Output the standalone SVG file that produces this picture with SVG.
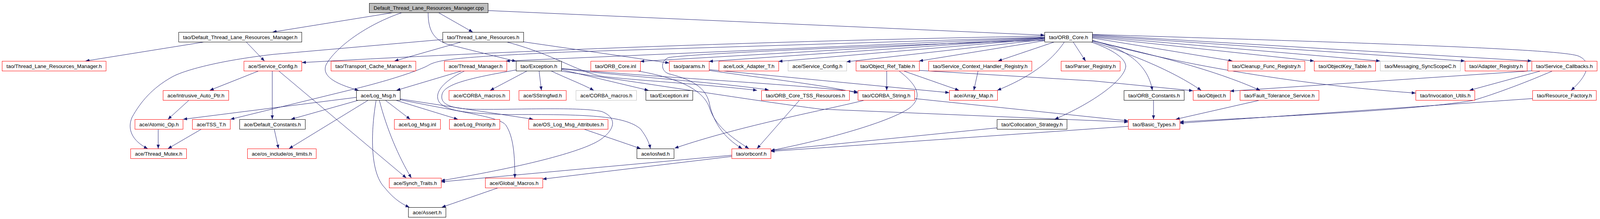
<svg xmlns="http://www.w3.org/2000/svg" width="4185" height="560" viewBox="0 0 4185 560">
<style>
.node rect{fill:#ffffff;stroke-width:1}
.red rect{stroke:#ff0000}
.blk rect{stroke:#000000}
.gry rect{stroke:#bfbfbf}
.root rect{fill:#bfbfbf;stroke:#000000}
.node text{font-family:"Liberation Sans",Arial,sans-serif;font-size:13px;text-anchor:middle;fill:#000000}
#edges path{fill:none;stroke:#191970;stroke-width:1;marker-end:url(#arr)}
</style>
<defs>
<marker id="arr" markerUnits="userSpaceOnUse" markerWidth="10" markerHeight="8" refX="10" refY="4" orient="auto">
<path d="M0,0 L10,4 L0,8 z" fill="#191970"/>
</marker>
</defs>
<rect x="0" y="0" width="4185" height="560" fill="#ffffff"/>
<g id="edges">
<path d="M1008,32 L698,82"/>
<path d="M1030,32 C940,62 860,120 835,165 C822,195 860,215 918,231"/>
<path d="M1122,32 L1210,82"/>
<path d="M1096,32 C1096,75 1108,100 1145,113 L1321,157"/>
<path d="M1249,27 L2674,90"/>
<path d="M525,107 L219,156"/>
<path d="M630,107 L677,156"/>
<path d="M1133,101 L700,139 C560,155 470,180 440,197 C390,225 360,260 338,300 C325,330 338,360 378,380"/>
<path d="M1182,107 L1010,156"/>
<path d="M1340,107 L1713,161"/>
<path d="M1296,107 C1420,140 1470,180 1540,195 C1620,205 1800,215 1938,231"/>
<path d="M1437,176 C1600,195 1850,212 1968,230"/>
<path d="M1630,181 C1740,200 1800,230 1816,275 C1830,320 1870,350 1917,380"/>
<path d="M2674,103 C2300,115 1800,135 1712,147 C1690,155 1690,185 1717,190 C1775,205 1805,225 1815,260 C1825,310 1850,350 1900,380"/>
<path d="M2047,256 L1938,380"/>
<path d="M1350,181 L1255,231"/>
<path d="M1380,181 L1386,231"/>
<path d="M1410,181 C1450,200 1490,215 1520,231"/>
<path d="M1437,178 L1660,231"/>
<path d="M1437,175 C1700,200 2000,212 2196,235"/>
<path d="M1437,182 C1700,220 1950,260 2100,279 L2888,312"/>
<path d="M1321,179 C1200,200 1140,215 1132,240 C1125,265 1150,276 1200,279 C1300,282 1480,272 1540,285 C1580,300 1575,330 1540,355 C1500,385 1350,425 1129,462"/>
<path d="M1183,181 L1015,231"/>
<path d="M1190,181 C1130,210 1110,240 1125,262 C1145,285 1200,290 1300,293 C1500,292 1600,295 1640,330 C1655,350 1662,365 1665,380"/>
<path d="M986,256 L1050,305"/>
<path d="M1012,256 L1172,305"/>
<path d="M1024,253 L1365,305"/>
<path d="M1024,255 C1200,290 1280,300 1295,320 C1315,350 1318,400 1318,455"/>
<path d="M919,256 L745,305"/>
<path d="M943,256 L740,380"/>
<path d="M971,256 C990,330 1020,400 1053,455"/>
<path d="M963,256 C950,330 945,440 985,480 C1005,505 1025,520 1048,530"/>
<path d="M912,249 L469,305"/>
<path d="M2674,95 L1450,133 C1200,145 1130,150 1100,165 C1080,178 1000,205 905,228 L590,305"/>
<path d="M2674,92 C2000,105 1400,125 773,160"/>
<path d="M2674,96 L1295,156"/>
<path d="M663,181 L537,231"/>
<path d="M697,181 L697,305"/>
<path d="M713,181 L1040,455"/>
<path d="M484,256 L430,305"/>
<path d="M405,330 L405,380"/>
<path d="M516,330 L430,380"/>
<path d="M702,330 L713,380"/>
<path d="M1494,330 L1640,380"/>
<path d="M2214,256 C2120,280 1900,320 1727,379"/>
<path d="M2341,252 L2888,309"/>
<path d="M1873,397 L1129,465"/>
<path d="M1873,400 L1389,458"/>
<path d="M1276,480 L1131,530"/>
<path d="M2270,181 L2270,231"/>
<path d="M2312,181 L2455,231"/>
<path d="M2301,181 C2345,215 2365,245 2330,275 C2290,305 2150,350 1973,385"/>
<path d="M2353,180 L2800,207 L3054,232"/>
<path d="M2504,181 L2493,231"/>
<path d="M1815,180 C1950,200 2100,215 2196,238"/>
<path d="M1815,178 L2430,237"/>
<path d="M2725,107 C2690,160 2630,200 2553,231"/>
<path d="M2700,107 L2555,156"/>
<path d="M2674,104 L2353,156"/>
<path d="M2674,101 L2167,158"/>
<path d="M2674,99 L1993,157"/>
<path d="M2674,98 L1815,157"/>
<path d="M2674,97 L1639,157"/>
<path d="M2747,107 L2779,156"/>
<path d="M2792,107 C2850,127 2882,150 2882,170 C2878,205 2800,262 2700,305"/>
<path d="M2796,104 C2890,125 2940,170 2950,231"/>
<path d="M2796,106 C2900,140 3000,180 3075,231"/>
<path d="M2796,104 C2950,140 3100,175 3226,231"/>
<path d="M2796,103 C3000,160 3300,215 3624,238"/>
<path d="M2796,97 L3155,156"/>
<path d="M2796,95 L3364,156"/>
<path d="M2796,93 L3533,156"/>
<path d="M2796,91 L3750,156"/>
<path d="M2796,89 L3921,156"/>
<path d="M2796,88 C3500,110 3990,125 4040,143 C4075,157 4068,190 4022,231"/>
<path d="M3921,181 L3640,200 L3149,233"/>
<path d="M3942,182 L3762,231"/>
<path d="M3973,182 C3920,205 3830,240 3770,257 C3600,285 3200,300 3020,312"/>
<path d="M3923,252 L3020,315"/>
<path d="M3226,256 L3010,305"/>
<path d="M2953,256 L2953,305"/>
<path d="M2888,323 L1973,387"/>
<path d="M2552,327 L1973,385"/>
</g>
<g id="n0" class="node root"><rect x="945.5" y="8.5" width="304" height="24"/><text x="1097.5" y="25" textLength="282" lengthAdjust="spacingAndGlyphs">Default_Thread_Lane_Resources_Manager.cpp</text></g>
<g id="n1" class="node blk"><rect x="457.5" y="82.5" width="315" height="25"/><text x="615" y="100" textLength="293" lengthAdjust="spacingAndGlyphs">tao/Default_Thread_Lane_Resources_Manager.h</text></g>
<g id="n2" class="node red"><rect x="5.5" y="156.5" width="266" height="25"/><text x="138.5" y="174" textLength="244" lengthAdjust="spacingAndGlyphs">tao/Thread_Lane_Resources_Manager.h</text></g>
<g id="n3" class="node red"><rect x="624.5" y="156.5" width="148" height="25"/><text x="698.5" y="174" textLength="126" lengthAdjust="spacingAndGlyphs">ace/Service_Config.h</text></g>
<g id="n4" class="node blk"><rect x="1133.5" y="82.5" width="207" height="25"/><text x="1237" y="100" textLength="185" lengthAdjust="spacingAndGlyphs">tao/Thread_Lane_Resources.h</text></g>
<g id="n5" class="node red"><rect x="847.5" y="156.5" width="217" height="25"/><text x="956" y="174" textLength="195" lengthAdjust="spacingAndGlyphs">tao/Transport_Cache_Manager.h</text></g>
<g id="n6" class="node red"><rect x="1137.5" y="156.5" width="160" height="25"/><text x="1217.5" y="174" textLength="138" lengthAdjust="spacingAndGlyphs">ace/Thread_Manager.h</text></g>
<g id="n7" class="node blk"><rect x="1321.5" y="156.5" width="116" height="25"/><text x="1379.5" y="174" textLength="94" lengthAdjust="spacingAndGlyphs">tao/Exception.h</text></g>
<g id="n8" class="node red"><rect x="1512.5" y="156.5" width="127" height="25"/><text x="1576" y="174" textLength="105" lengthAdjust="spacingAndGlyphs">tao/ORB_Core.inl</text></g>
<g id="n9" class="node red"><rect x="1713.5" y="156.5" width="102" height="25"/><text x="1764.5" y="174" textLength="80" lengthAdjust="spacingAndGlyphs">tao/params.h</text></g>
<g id="n10" class="node red"><rect x="1840.5" y="156.5" width="153" height="25"/><text x="1917" y="174" textLength="131" lengthAdjust="spacingAndGlyphs">ace/Lock_Adapter_T.h</text></g>
<g id="n11" class="node gry"><rect x="2017.5" y="156.5" width="150" height="25"/><text x="2092.5" y="174" textLength="128" lengthAdjust="spacingAndGlyphs">ace/Service_Config.h</text></g>
<g id="n12" class="node red"><rect x="2191.5" y="156.5" width="162" height="25"/><text x="2272.5" y="174" textLength="140" lengthAdjust="spacingAndGlyphs">tao/Object_Ref_Table.h</text></g>
<g id="n13" class="node red"><rect x="2377.5" y="156.5" width="264" height="25"/><text x="2509.5" y="174" textLength="242" lengthAdjust="spacingAndGlyphs">tao/Service_Context_Handler_Registry.h</text></g>
<g id="n14" class="node red"><rect x="2716.5" y="156.5" width="151" height="25"/><text x="2792" y="174" textLength="129" lengthAdjust="spacingAndGlyphs">tao/Parser_Registry.h</text></g>
<g id="n15" class="node red"><rect x="3143.5" y="156.5" width="197" height="25"/><text x="3242" y="174" textLength="175" lengthAdjust="spacingAndGlyphs">tao/Cleanup_Func_Registry.h</text></g>
<g id="n16" class="node red"><rect x="3364.5" y="156.5" width="157" height="25"/><text x="3443" y="174" textLength="135" lengthAdjust="spacingAndGlyphs">tao/ObjectKey_Table.h</text></g>
<g id="n17" class="node gry"><rect x="3533.5" y="156.5" width="205" height="25"/><text x="3636" y="174" textLength="183" lengthAdjust="spacingAndGlyphs">tao/Messaging_SyncScopeC.h</text></g>
<g id="n18" class="node red"><rect x="3750.5" y="156.5" width="159" height="25"/><text x="3830" y="174" textLength="137" lengthAdjust="spacingAndGlyphs">tao/Adapter_Registry.h</text></g>
<g id="n19" class="node red"><rect x="3921.5" y="156.5" width="167" height="25"/><text x="4005" y="174" textLength="145" lengthAdjust="spacingAndGlyphs">tao/Service_Callbacks.h</text></g>
<g id="n20" class="node blk"><rect x="2674.5" y="82.5" width="122" height="25"/><text x="2735.5" y="100" textLength="100" lengthAdjust="spacingAndGlyphs">tao/ORB_Core.h</text></g>
<g id="n21" class="node red"><rect x="417.5" y="231.5" width="168" height="25"/><text x="501.5" y="249" textLength="146" lengthAdjust="spacingAndGlyphs">ace/Intrusive_Auto_Ptr.h</text></g>
<g id="n22" class="node blk"><rect x="912.5" y="231.5" width="112" height="25"/><text x="968.5" y="249" textLength="90" lengthAdjust="spacingAndGlyphs">ace/Log_Msg.h</text></g>
<g id="n23" class="node red"><rect x="1149.5" y="231.5" width="155" height="25"/><text x="1227" y="249" textLength="133" lengthAdjust="spacingAndGlyphs">ace/CORBA_macros.h</text></g>
<g id="n24" class="node red"><rect x="1328.5" y="231.5" width="121" height="25"/><text x="1389" y="249" textLength="99" lengthAdjust="spacingAndGlyphs">ace/SStringfwd.h</text></g>
<g id="n25" class="node gry"><rect x="1474.5" y="231.5" width="155" height="25"/><text x="1552" y="249" textLength="133" lengthAdjust="spacingAndGlyphs">ace/CORBA_macros.h</text></g>
<g id="n26" class="node blk"><rect x="1653.5" y="231.5" width="120" height="25"/><text x="1713.5" y="249" textLength="98" lengthAdjust="spacingAndGlyphs">tao/Exception.inl</text></g>
<g id="n27" class="node red"><rect x="1949.5" y="231.5" width="225" height="25"/><text x="2062" y="249" textLength="203" lengthAdjust="spacingAndGlyphs">tao/ORB_Core_TSS_Resources.h</text></g>
<g id="n28" class="node red"><rect x="2196.5" y="231.5" width="145" height="25"/><text x="2269" y="249" textLength="123" lengthAdjust="spacingAndGlyphs">tao/CORBA_String.h</text></g>
<g id="n29" class="node red"><rect x="2430.5" y="231.5" width="123" height="25"/><text x="2492" y="249" textLength="101" lengthAdjust="spacingAndGlyphs">ace/Array_Map.h</text></g>
<g id="n30" class="node blk"><rect x="2877.5" y="231.5" width="154" height="25"/><text x="2954.5" y="249" textLength="132" lengthAdjust="spacingAndGlyphs">tao/ORB_Constants.h</text></g>
<g id="n31" class="node red"><rect x="3054.5" y="231.5" width="95" height="25"/><text x="3102" y="249" textLength="73" lengthAdjust="spacingAndGlyphs">tao/Object.h</text></g>
<g id="n32" class="node red"><rect x="3174.5" y="231.5" width="202" height="25"/><text x="3275.5" y="249" textLength="180" lengthAdjust="spacingAndGlyphs">tao/Fault_Tolerance_Service.h</text></g>
<g id="n33" class="node red"><rect x="3624.5" y="231.5" width="151" height="25"/><text x="3700" y="249" textLength="129" lengthAdjust="spacingAndGlyphs">tao/Invocation_Utils.h</text></g>
<g id="n34" class="node red"><rect x="3923.5" y="231.5" width="163" height="25"/><text x="4005" y="249" textLength="141" lengthAdjust="spacingAndGlyphs">tao/Resource_Factory.h</text></g>
<g id="n35" class="node red"><rect x="345.5" y="305.5" width="123" height="25"/><text x="407" y="323" textLength="101" lengthAdjust="spacingAndGlyphs">ace/Atomic_Op.h</text></g>
<g id="n36" class="node red"><rect x="492.5" y="305.5" width="97" height="25"/><text x="541" y="323" textLength="75" lengthAdjust="spacingAndGlyphs">ace/TSS_T.h</text></g>
<g id="n37" class="node blk"><rect x="613.5" y="305.5" width="168" height="25"/><text x="697.5" y="323" textLength="146" lengthAdjust="spacingAndGlyphs">ace/Default_Constants.h</text></g>
<g id="n38" class="node red"><rect x="1009.5" y="305.5" width="118" height="25"/><text x="1068.5" y="323" textLength="96" lengthAdjust="spacingAndGlyphs">ace/Log_Msg.inl</text></g>
<g id="n39" class="node red"><rect x="1150.5" y="305.5" width="129" height="25"/><text x="1215" y="323" textLength="107" lengthAdjust="spacingAndGlyphs">ace/Log_Priority.h</text></g>
<g id="n40" class="node red"><rect x="1353.5" y="305.5" width="203" height="25"/><text x="1455" y="323" textLength="181" lengthAdjust="spacingAndGlyphs">ace/OS_Log_Msg_Attributes.h</text></g>
<g id="n41" class="node blk"><rect x="2552.5" y="305.5" width="179" height="25"/><text x="2642" y="323" textLength="157" lengthAdjust="spacingAndGlyphs">tao/Collocation_Strategy.h</text></g>
<g id="n42" class="node red"><rect x="2888.5" y="305.5" width="132" height="25"/><text x="2954.5" y="323" textLength="110" lengthAdjust="spacingAndGlyphs">tao/Basic_Types.h</text></g>
<g id="n43" class="node red"><rect x="334.5" y="380.5" width="143" height="25"/><text x="406" y="398" textLength="121" lengthAdjust="spacingAndGlyphs">ace/Thread_Mutex.h</text></g>
<g id="n44" class="node red"><rect x="633.5" y="380.5" width="176" height="25"/><text x="721.5" y="398" textLength="154" lengthAdjust="spacingAndGlyphs">ace/os_include/os_limits.h</text></g>
<g id="n45" class="node blk"><rect x="1630.5" y="380.5" width="95" height="25"/><text x="1678" y="398" textLength="73" lengthAdjust="spacingAndGlyphs">ace/iosfwd.h</text></g>
<g id="n46" class="node red"><rect x="1873.5" y="380.5" width="100" height="25"/><text x="1923.5" y="398" textLength="78" lengthAdjust="spacingAndGlyphs">tao/orbconf.h</text></g>
<g id="n47" class="node red"><rect x="996.5" y="455.5" width="133" height="25"/><text x="1063" y="473" textLength="111" lengthAdjust="spacingAndGlyphs">ace/Synch_Traits.h</text></g>
<g id="n48" class="node red"><rect x="1242.5" y="455.5" width="147" height="25"/><text x="1316" y="473" textLength="125" lengthAdjust="spacingAndGlyphs">ace/Global_Macros.h</text></g>
<g id="n49" class="node blk"><rect x="1045.5" y="530.5" width="96" height="25"/><text x="1093.5" y="548" textLength="74" lengthAdjust="spacingAndGlyphs">ace/Assert.h</text></g>
</svg>
